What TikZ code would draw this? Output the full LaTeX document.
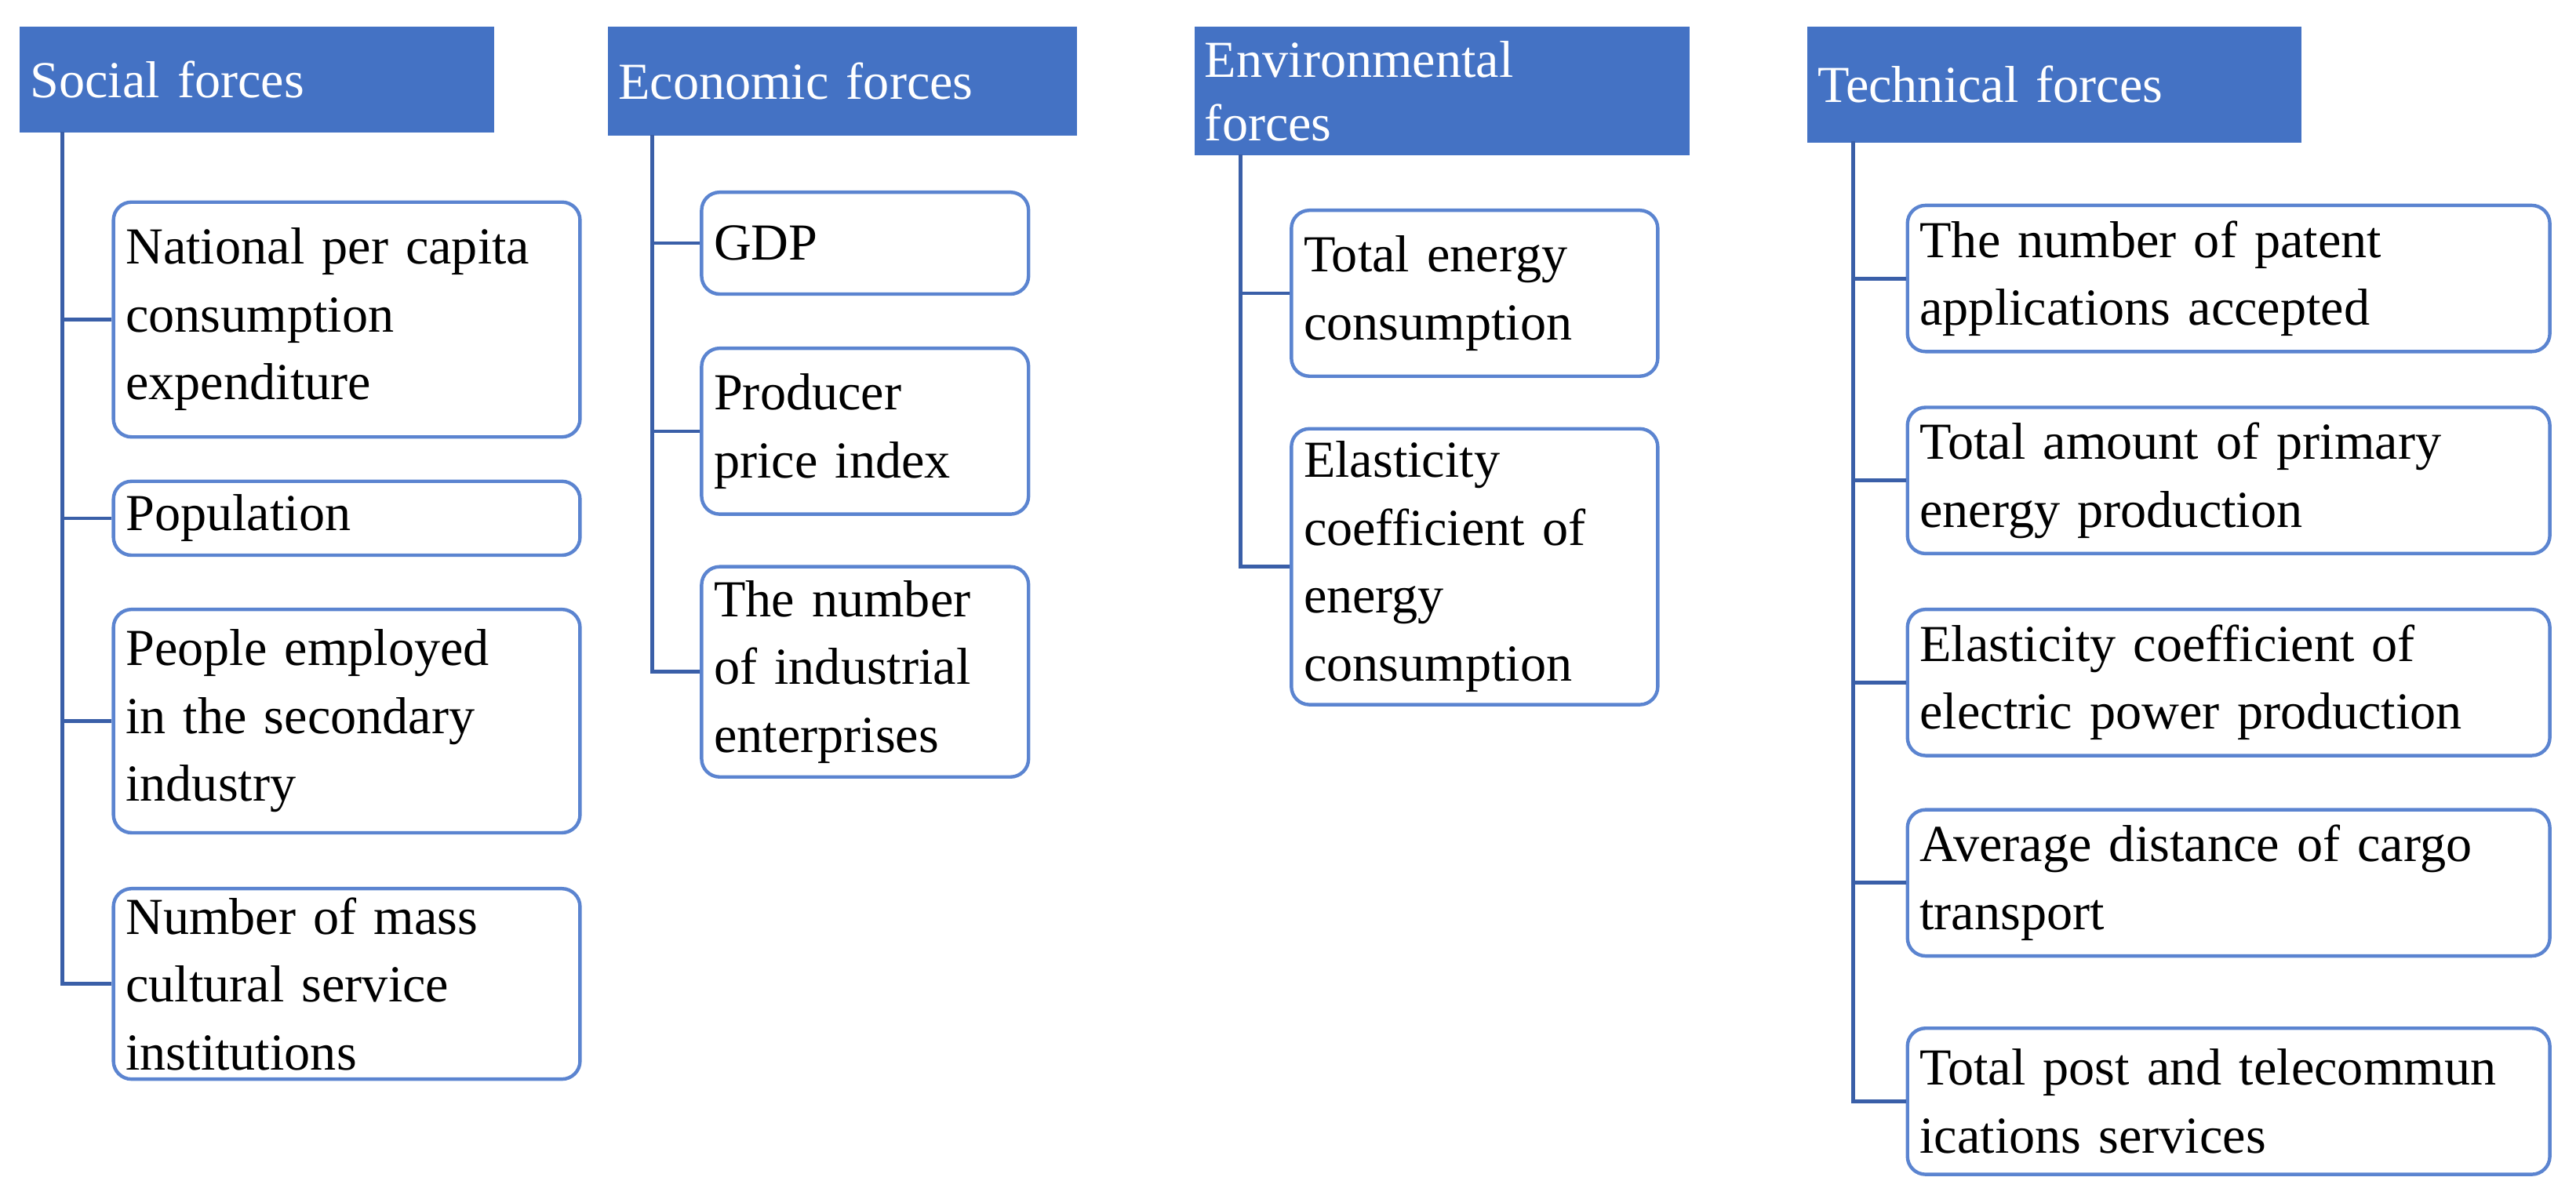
\documentclass[tikz,border=0pt]{standalone}
\usepackage{fontspec}
\setmainfont{Liberation Serif}
\definecolor{hdr}{HTML}{4472C4}
\definecolor{brd}{HTML}{5B84D0}
\definecolor{ln}{HTML}{3A5FA8}
\tikzset{
 hbox/.style={fill=hdr,draw=hdr,text=white,anchor=north west,align=left,inner xsep=0.12cm,inner ysep=0.05cm,font=\fontsize{18}{22}\selectfont},
 ibox/.style={draw=brd,line width=1.2pt,rounded corners=0.22cm,anchor=north west,align=left,inner xsep=0.15cm,inner ysep=0pt,font=\fontsize{18}{23.5}\selectfont},
 conn/.style={draw=ln,line width=1.3pt}
}
\newcommand{\bx}[6]{\node[ibox,minimum width={(#4-#2)*0.02cm},minimum height={(#5-#3)*0.02cm},text width={(#4-#2)*0.02cm-0.3cm}] (#1) at (#2,#3) {#6};}
\begin{document}
\begin{tikzpicture}[x=0.02cm,y=-0.02cm]
\useasboundingbox (0,0) rectangle (1568,730);
% headers
\node[hbox,minimum width=5.76cm,minimum height=1.28cm,text width=5.52cm] (h1) at (12,16) {Social forces\\[0.45cm]};
\node[hbox,minimum width=5.7cm,minimum height=1.32cm,text width=5.46cm] (h2) at (370,16) {Economic forces\\[0.45cm]};
\node[hbox,minimum width=6.02cm,minimum height=1.56cm,text width=5.78cm] (h3) at (727,16) {Environmental\\forces};
\node[hbox,minimum width=6.0cm,minimum height=1.4cm,text width=5.76cm] (h4) at (1100,16) {Technical forces\\[0.5cm]};
% social
\bx{s1}{68}{122}{352}{265}{National per capita\\consumption\\expenditure}
\bx{s2}{68}{292}{352}{337}{Population}
\bx{s3}{68}{370}{352}{506}{People employed\\in the secondary\\industry}
\bx{s4}{68}{540}{352}{656}{Number of mass\\cultural service\\institutions}
% economic
\bx{e1}{426}{116}{625}{178}{GDP}
\bx{e2}{426}{211}{625}{312}{Producer\\price index}
\bx{e3}{426}{344}{625}{472}{The number\\of industrial\\enterprises}
% environmental
\bx{v1}{785}{127}{1008}{228}{Total energy\\consumption}
\bx{v2}{785}{260}{1008}{428}{Elasticity\\coefficient of\\energy\\consumption}
% technical
\bx{t1}{1160}{124}{1551}{213}{The number of patent\\applications accepted}
\bx{t2}{1160}{247}{1551}{336}{Total amount of primary\\energy production}
\bx{t3}{1160}{370}{1551}{459}{Elasticity coefficient of\\electric power production}
\bx{t4}{1160}{492}{1551}{581}{Average distance of cargo\\transport}
\bx{t5}{1160}{625}{1551}{714}{Total post and telecommun\\ications services}
% connectors
\coordinate (p1) at (38,80);
\coordinate (p2) at (397,82);
\coordinate (p3) at (755,94);
\coordinate (p4) at (1128,86);
\draw[conn] (p1) |- (s4.west);
\foreach \b in {s1,s2,s3} \draw[conn] (\b.west) -- (\b.west -| p1);
\draw[conn] (p2) |- (e3.west);
\foreach \b in {e1,e2} \draw[conn] (\b.west) -- (\b.west -| p2);
\draw[conn] (p3) |- (v2.west);
\draw[conn] (v1.west) -- (v1.west -| p3);
\draw[conn] (p4) |- (t5.west);
\foreach \b in {t1,t2,t3,t4} \draw[conn] (\b.west) -- (\b.west -| p4);
\end{tikzpicture}
\end{document}
